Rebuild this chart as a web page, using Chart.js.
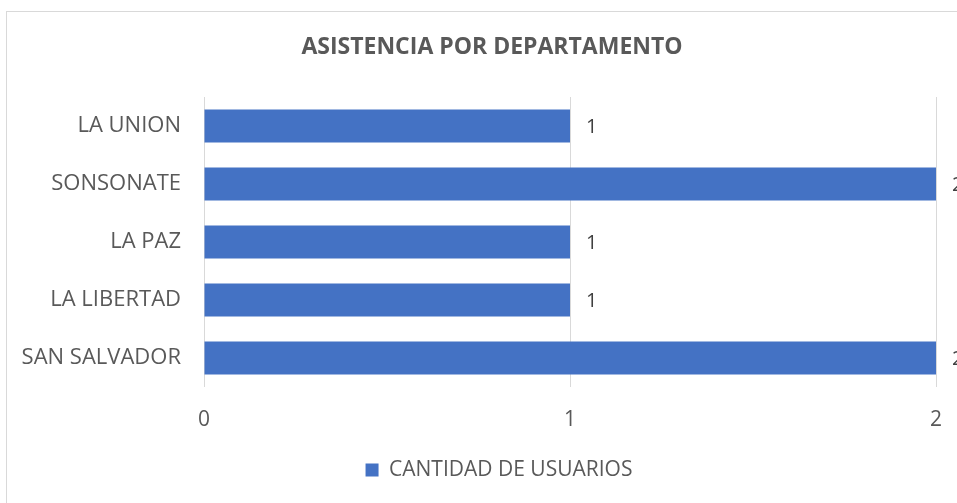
<!DOCTYPE html>
<html>
<head>
<meta charset="utf-8">
<script src="https://cdn.jsdelivr.net/npm/chart.js@4/dist/chart.umd.min.js"></script>
<style>
  html, body { margin: 0; padding: 0; background: #fff; }
  #wrap { width: 957px; height: 503px; position: relative; }
</style>
</head>
<body>
<div id="wrap"><canvas id="deptChart"></canvas></div>
<script>
const departamentos = ['LA UNION', 'SONSONATE', 'LA PAZ', 'LA LIBERTAD', 'SAN SALVADOR'];
const usuarios = [1, 2, 1, 1, 2];
const ejeX = [0, 1, 2];

const FONT = '"Open Sans", "Noto Sans", sans-serif';

// marco gris del grafico (sale por la derecha y abajo)
const marco = {
    id: 'marco',
    beforeDraw(chart) {
        const c = chart.ctx;
        c.save();
        c.strokeStyle = '#d9d9d9';
        c.lineWidth = 1;
        c.strokeRect(6.5, 11.5, 1000, 600);
        c.restore();
    }
};

// el marco original es mas ancho que la ventana: centrar titulo y leyenda un poco a la derecha
const centrado = {
    id: 'centrado',
    afterLayout(chart) {
        if (chart.titleBlock) {
            chart.titleBlock.left += 24;
            chart.titleBlock.right += 24;
        }
        if (chart.legend) {
            chart.legend.left += 31;
            chart.legend.right += 31;
        }
    }
};

// etiquetas de valor al final de cada barra
const etiquetas = {
    id: 'etiquetas',
    afterDatasetsDraw(chart) {
        const c = chart.ctx;
        const meta = chart.getDatasetMeta(0);
        c.save();
        c.font = '20px ' + FONT;
        c.fillStyle = '#404040';
        c.textAlign = 'left';
        c.textBaseline = 'middle';
        meta.data.forEach((bar, i) => {
            c.fillText(String(usuarios[i]), bar.x + 16, bar.y + 1);
        });
        c.restore();
    }
};

document.addEventListener('DOMContentLoaded', function () {
    const ctx = document.getElementById('deptChart');
    new Chart(ctx, {
        type: 'bar',
        data: {
            labels: departamentos,
            datasets: [{
                label: 'CANTIDAD DE USUARIOS',
                data: usuarios,
                backgroundColor: '#4472c4',
                borderWidth: 0,
                barPercentage: 0.57,
                categoryPercentage: 1
            }]
        },
        options: {
            indexAxis: 'y',
            responsive: true,
            maintainAspectRatio: false,
            animation: false,
            layout: { padding: { left: 0, right: 21, top: 0, bottom: 12.5 } },
            plugins: {
                title: {
                    display: true,
                    text: 'ASISTENCIA POR DEPARTAMENTO',
                    color: '#595959',
                    font: { family: FONT, size: 23, weight: 'bold' },
                    padding: { top: 34, bottom: 35.4 }
                },
                legend: {
                    position: 'bottom',
                    labels: {
                        color: '#595959',
                        font: { family: FONT, size: 21 },
                        boxWidth: 13,
                        boxHeight: 13,
                        padding: 10
                    }
                },
                tooltip: { enabled: false }
            },
            scales: {
                x: {
                    min: 0,
                    max: 2,
                    afterFit(scale) {
                        scale.height = 62.5;
                        scale.paddingLeft = 0;
                        scale.paddingRight = 0;
                    },
                    afterBuildTicks(scale) { scale.ticks = ejeX.map(v => ({ value: v })); },
                    grid: { color: '#d9d9d9', lineWidth: 1, drawTicks: false },
                    border: { display: false },
                    ticks: {
                        color: '#595959',
                        font: { family: FONT, size: 21 },
                        padding: 20
                    }
                },
                y: {
                    afterFit(scale) { scale.width = 204; },
                    grid: { display: false, drawTicks: false },
                    border: { display: false },
                    ticks: {
                        color: '#595959',
                        font: { family: FONT, size: 22 },
                        padding: 23
                    }
                }
            }
        },
        plugins: [marco, centrado, etiquetas]
    });
});
</script>
</body>
</html>
